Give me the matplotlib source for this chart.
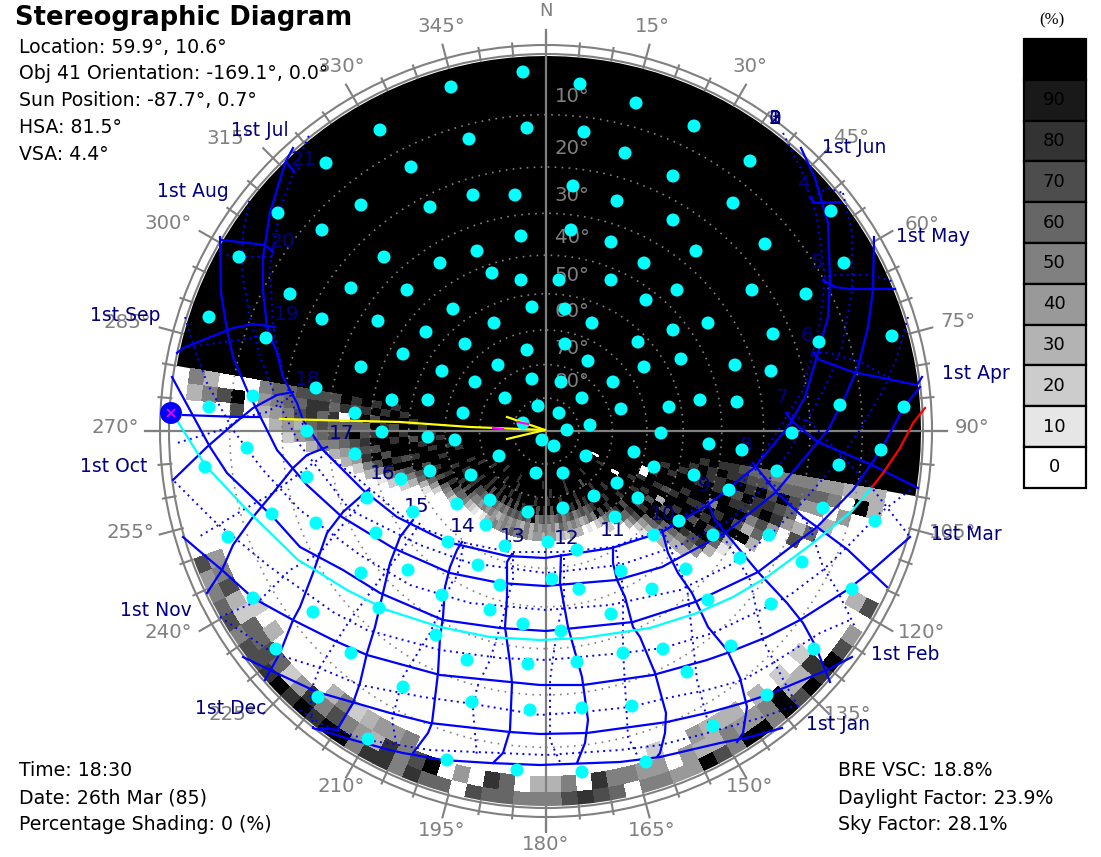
import numpy as np
import matplotlib
matplotlib.use("Agg")
import matplotlib.pyplot as plt
from matplotlib.collections import PolyCollection
from matplotlib.patches import Circle, Wedge, Rectangle

# chart centre on the sheet and projection radius
cx, cy = 546, 431
R = 377

# sky sample points, east / north of the centre
dot_east = [-23,-95,-166,-19,-77,-220,-135,-73,-31,-185,-116,-268,-224,-25,-69,-307,-162,-106,-54,-25,
            -195,-139,-256,-14,-93,-337,-224,-168,-52,-120,-280,-81,-19,-143,-48,-185,-104,-14,-71,-230,
            -41,-154,-118,-191,-83,-8,-337,-293,-23,
            34,90,148,38,79,204,127,27,187,71,285,127,25,65,219,150,298,98,13,65,131,206,260,100,19,46,162,
            127,227,346,92,19,273,42,135,98,189,225,15,67,36,154,75,123,191,294,358,13,44,21,115,
            163,246,8,196,40,88,108,17,231,148,71,183,48,92,17,69,133,108,167,223,2,31,194,75,140,256,6,33,
            106,162,225,65,15,335,293,277,329,306,117,185,77,31,268,141,221,86,36,167,100,36,
            -293,-233,-270,-195,-167,-110,-104,-56,-46,-23,-185,-138,-79,-18,-143,-74,-16,-228,-178,-99,-29,
            -239,-164,-118,-91,-4,-191,-47,-116,-75,-10,-239,-145,-179,-56,-89,-18,-133,-60,-170,-230,-98,-41,-68,
            -299,-341,-274,-318]
dot_north = [359,344,301,303,292,268,264,236,236,226,224,218,201,195,180,174,174,168,158,151,
             143,141,137,124,122,114,112,110,108,99,93,87,81,77,66,64,60,52,49,43,
             33,31,31,18,18,25,24,35,8,
             347,328,305,299,278,270,255,245,228,230,220,211,201,189,187,180,168,168,151,151,141,141,137,131,122,108,108,
             101,97,95,89,87,89,70,72,64,66,60,49,49,33,31,22,24,29,26,24,18,6,1,-2,
             -13,-2,-15,-19,-25,-21,-36,-42,-40,-44,-52,-59,-65,-67,-77,-86,-90,-104,-104,-104,-111,-119,-127,-140,-138,-131,-148,-158,
             -158,-169,-173,-183,-200,-19,-34,-77,-90,-158,-218,-215,-222,-231,-218,-241,-264,-275,-277,-295,-331,-341,
             -167,-181,-218,-222,-177,-204,-164,-179,-154,-193,-142,-139,-229,-233,-256,-271,-279,-266,-308,-329,-339,
             0,-1,-6,-9,-9,-23,-25,-40,-44,-42,-46,-48,-67,-69,-73,-81,-81,-94,-102,-92,-111,-115,-134,
             -17,-36,-83,-106]

# shading cells, 2.5 degree grid. one character per cell: 0-9 = tens of percent, X = 100, . = none
east_alts = [5,7.5,10,12.5,15,17.5,20,22.5,25,27.5,30,32.5,35,37.5,40,42.5,45,47.5,50,52.5,55,57.5,
             60,62.5,65,67.5,70,72.5,75,77.5,80,82.5,85,87.5]
east_rows = ["33","3X","304","4503","46406","564037","567640","56X7840","5678X763","67X8853X0",
             "678X8X7X31","78X78XXX863","88X7XX8X7X84","8X88X5X8XX763","X88XXX8X7X853","8XX8XX8XX7X643",
             "X8XXX8XX8XX652","XX8XXX8XX7X8631","XXX8XX7X3XXX6420","XX8XXX8XX7X8X7530","XXXX8XXX8XX7X866302",
             "XXXX008XX8XXX7X866532010334232443443",
             "XXXXXXX8XXXX8XXX8X7X5643454563545453","XXXXXXXXX8XXXXX8XXX8767657657656765X",
             "XXXXXXXX0XXXX8XXXXXX8X7X8X7X8X7X8X7X","XXXXXXXXXXXXXXXX8XXXXX8XXXX8XXX8XXX8",
             "XXXXXXXX8XXXXXXXXX7XXXXX8XXXXX8XXXXX","XXXXXX0XXXXXXXX8XXXXXXXX8XXXXXXXX8XX",
             "","","","","",""]
west_alts = [2.5,5,7.5,10,12.5,15,17.5,20,22.5,25,27.5,30,32.5,35,37.5,40,42.5,45,47.5,50,52.5,55,57.5,
             60,62.5,65,67.5,70,72.5,75,77.5,80,82.5,85,87.5]
west_rows = ["53","35","070","0X7","000","5430","6543","66542","76734","788653","786765","7686753","X8067643",
             "8786X7642","X8X6787853","8X7X8X7X741","X8X8XXX7X852","8XX7X8XX8X652","X8XX8XXX7X753",
             "XX8XX7XX8XX7631","XXX8XX8XXX7X86420","XXXX8XX8XXX8X7X65420",
             "XXXXX8XXX8XXX8X8X7665321013454546565",
             "XXXXXXX8XXXX8XXX8X7X65545454345454353","XXXXXXXX8XXXXX8XXX8X7767676565767676",
             "XXXXXXXXXXXX8XXXXX8XX8X7X8X7X7X7X8X7","XXXXXXXXXXXXXX8XXXXXX8XXX8XX8XX8XX",
             "XXXXXXXXXXXXXXXXX8XXXXXX8XXXX8XXXX","XXXXXXXXXXXXXXXXXXXXX8XXXXXX8XXXXX",
             "","","","","",""]
horizon_alts = [0,2.5,5]
horizon_rows = ["745675778X" + "8X8XX58858" + "6607665557" + "87605544X7" + "5XX5X7X8X7" + "4.7",
                "4573266762" + "4857543857" + "X040860335" + "0855440433" + "5445X338.." + "..3",
                "....2.3.....3523445" + "................" + "2..4333.3.2.2"]

# sun paths read from the sheet (x, y)
day_solid = [
    [(801,148),(815,178),(828,223),(830,280),(828,317),(815,363),(805,397),(788,427),(755,467),(708,505),(662,532),(612,548),(545,558),(507,556),(447,542),(397,517),(363,490),(323,450),(303,420),(297,403),(283,377),(277,353),(267,327),(263,290),(263,257),(270,213),(285,163),(293,148)],
    [(874,237),(873,290),(868,327),(858,367),(845,397),(828,430),(775,493),(725,533),(662,567),(617,580),(545,586),(500,583),(450,573),(393,548),(342,517),(307,485),(277,450),(247,390),(233,357),(227,330),(221,293),(220,237)],
    [(920,387),(904,407),(881,450),(853,490),(817,527),(758,572),(695,602),(633,622),(546,631),(500,628),(443,620),(380,593),(343,570),(300,547),(273,517),(227,473),(210,447),(172,377)],
    [(183,537),(210,560),(222,570),(253,598),(293,620),(333,640),(367,655),(440,675),(540,685),(583,685),(653,675),(707,660),(727,653),(767,637),(800,620),(847,590),(870,572),(910,537)],
    [(243,657),(270,670),(317,692),(352,702),(390,713),(430,723),(510,732),(540,734),(587,733),(667,722),(707,713),(743,703),(767,695),(827,670),(852,657)],
    [(313,728),(353,740),(390,750),(403,753),(443,760),(490,763),(540,765),(620,762),(660,757),(720,743),(750,737),(782,728)],
]
day_dotted = [
    [(783,133),(800,167),(817,217),(825,277),(820,323),(803,390),(780,427),(757,463),(737,490),(700,505),(667,527),(613,547),(560,552),(510,552),(460,542),(413,525),(363,483),(330,457),(297,417),(283,373),(273,327),(270,267),(280,210),(293,173),(310,133)],
    [(843,193),(852,233),(852,290),(842,347),(827,383),(813,410),(790,450),(762,490),(730,520),(680,545),(620,565),(546,573),(470,563),(420,545),(350,510),(300,445),(277,400),(260,357),(250,317),(242,273),(243,233),(250,197)],
    [(908,317),(897,357),(883,390),(860,430),(835,465),(800,505),(770,535),(730,565),(680,590),(610,605),(546,610),(470,603),(410,585),(360,555),(300,510),(263,470),(233,430),(207,383),(195,350),(185,317)],
    [(910,490),(880,513),(847,547),(823,570),(790,595),(757,612),(713,633),(663,648),(623,653),(546,660),(500,658),(440,650),(367,630),(333,612),(270,567),(213,520),(173,480)],
    [(220,617),(273,653),(317,667),(360,685),(423,697),(467,703),(540,715),(583,712),(630,707),(667,698),(707,690),(743,680),(773,663),(820,633),(850,620)],
    [(300,710),(323,725),(367,740),(430,750),(546,755),(620,750),(660,745),(700,735),(760,718),(797,705)],
]
hour_solid = [
    [(810,198),(815,203),(840,202)],
    [(823,280),(835,287),(850,289),(895,289)],
    [(813,353),(820,360),(853,372),(917,385),(922,377)],
    [(786,413),(793,422),(818,442),(872,465),(918,488)],
    [(753,463),(777,493),(803,517),(817,527),(848,550),(887,587)],
    [(708,502),(715,520),(758,572),(787,603),(803,623),(815,645),(830,682)],
    [(662,530),(668,553),(678,573),(692,593),(708,627),(727,650),(740,678),(747,707),(743,733),(737,742)],
    [(613,547),(613,563),(617,580),(625,597),(633,627),(640,637),(655,673),(666,713),(665,733),(660,753),(657,757)],
    [(561,555),(560,583),(568,627),(582,677),(588,720),(585,743),(577,763)],
    [(512,554),(507,562),(507,597),(505,627),(510,663),(512,683),(510,730),(503,753),(493,763)],
    [(462,542),(457,550),(450,567),(445,587),(443,617),(440,637),(438,673),(432,723),(428,733),(413,753)],
    [(413,520),(400,537),(390,563),(375,627),(367,653),(360,683),(353,703),(337,730),(320,728)],
    [(368,490),(343,512),(327,533),(313,573),(300,607),(293,620),(280,653),(265,680)],
    [(327,447),(307,455),(293,468),(273,493),(253,517),(233,545),(222,570),(207,593)],
    [(293,392),(277,395),(253,408),(230,427),(207,447),(173,480)],
    [(275,327),(253,324),(233,328),(183,348),(177,353)],
    [(273,252),(265,245),(240,242),(221,240)],
    [(293,170),(287,163)],
]
hour_dotted = [
    [(812,198),(827,188),(843,193)],
    [(823,280),(833,275),(870,275),(895,282)],
    [(813,353),(830,353),(860,362),(893,380)],
    [(786,413),(810,422),(872,488),(910,537)],
    [(750,465),(780,490),(810,527),(823,567),(837,590),(855,627)],
    [(710,508),(717,527),(730,547),(750,580),(763,640),(787,687),(800,710)],
    [(665,535),(675,560),(687,587),(697,680),(710,730)],
    [(616,550),(620,570),(623,587),(623,650),(628,737),(638,757)],
    [(564,558),(564,600),(557,630),(550,680),(550,740),(560,762)],
    [(513,553),(513,580),(510,590),(503,617),(490,660),(477,687),(473,710),(477,757)],
    [(463,547),(457,577),(453,580),(430,633),(403,677),(392,720),(397,747)],
    [(420,523),(400,553),(372,590),(350,620),(320,667),(310,693),(313,727)],
    [(370,490),(357,507),(320,553),(290,570),(260,600),(220,617)],
    [(327,453),(273,493),(243,510),(197,538)],
    [(293,395),(267,412),(240,418),(227,428),(177,443)],
    [(275,330),(253,338),(217,343),(183,348)],
    [(272,257),(243,257),(225,255)],
    [(293,173),(303,165)],
]
today_path = [(178,422),(205,465),(247,510),(298,560),(315,570),(347,590),(387,610),(440,627),(490,637),(540,640),(583,638),(650,628),(697,613),(733,597),(767,577),(813,543),(853,510),(872,487)]
today_red = [(872,487),(883,473),(900,448),(913,423),(925,408)]
sun_ray = [(183,415),(240,417),(260,417)]
sun_pos = (171,413)
view_line = [(280,419),(400,422),(470,427),(545,430)]
view_head = [(507,417),(545,430),(507,439)]
view_marks = [[(518,422),(528,424)],[(493,428),(503,429)]]

hour_names = ["0","1","2","3","4","5","6","7","8","9","10","11","12","13","14","15","16","17","18","19","20","21"]
hour_east = [229,229,229,229,258,271,261,236,200,158,117,67,21,-33,-83,-129,-163,-204,-238,-259,-264,-243]
hour_north = [313,313,313,313,248,169,96,34,-14,-54,-84,-99,-107,-106,-96,-75,-42,-2,52,117,190,272]

month_names = ["1st Jun","1st Jul","1st May","1st Aug","1st Apr","1st Sep","1st Mar","1st Oct","1st Feb","1st Nov","1st Jan","1st Dec"]
month_x = [854,260,933,193,976,125,966,114,905,156,838,231]
month_y = [147,130,236,191,373,315,534,466,655,611,725,708]

azimuths = list(range(15,360,15))
az_label_x = [652,750,852,922,958,972,953,922,848,750,652,546,442,341,232,168,130,115,127,168,230,341,441]
az_label_y = [26,66,137,224,321,427,533,632,714,787,830,845,830,787,714,632,532,427,322,223,138,66,26]
altitudes = [10,20,30,40,50,60,70,80]
alt_label_y = [96,148,195,237,275,311,348,381]

legend_levels = [100,90,80,70,60,50,40,30,20,10,0]
legend_names = ["","90","80","70","60","50","40","30","20","10","0"]

info_top = ["Location: 59.9°, 10.6°","Obj 41 Orientation: -169.1°, 0.0°","Sun Position: -87.7°, 0.7°","HSA: 81.5°","VSA: 4.4°"]
info_top_y = [47,73,100,127,154]
info_left = ["Time: 18:30","Date: 26th Mar (85)","Percentage Shading: 0 (%)"]
info_right = ["BRE VSC: 18.8%","Daylight Factor: 23.9%","Sky Factor: 28.1%"]
info_low_y = [771,798,825]

GREY = "#808080"
NAVY = "#000080"
BLUE = "#0000ff"
CYAN = "#00ffff"

def sheet(points):
    p = np.array(points, dtype=float)
    return p[:,0]-cx, cy-p[:,1]

def project(az, alt):
    r = R*np.tan(np.radians(90-alt)/2)
    return r*np.sin(np.radians(az)), r*np.cos(np.radians(az))

def level_color(c):
    v = 100 if c == "X" else int(c)*10
    g = 1-v/100
    return (g, g, g)

def add_cells(az, alt, c, polys, cols):
    if c == ".":
        return
    corners = [project(az,alt),project(az+1.25,alt),project(az+2.5,alt),
               project(az+2.5,alt+1.25),project(az+2.5,alt+2.5),project(az+1.25,alt+2.5),project(az,alt+2.5),project(az,alt+1.25)]
    polys.append(corners)
    cols.append(level_color(c))

fig = plt.figure(figsize=(11.01,8.57), dpi=100)
ax = fig.add_axes([0,0,1,1])
ax.set_xlim(-cx, 1101-cx)
ax.set_ylim(cy-857, cy)
ax.axis("off")

# part of the sky behind the facade
ax.add_patch(Wedge((0,0), 375, -10, 170, facecolor="black", edgecolor="none", zorder=1))

polys, cols = [], []
for alt, row in zip(east_alts, east_rows):
    if alt >= 57.5:
        row = row.ljust(36, "X")
    for i, c in enumerate(row[:36]):
        add_cells(100+2.5*i, alt, c, polys, cols)
for alt, row in zip(west_alts, west_rows):
    if alt >= 57.5:
        row = row.ljust(36, "X")
    for i, c in enumerate(row[:36]):
        add_cells(277.5-2.5*i, alt, c, polys, cols)
for alt, row in zip(horizon_alts, horizon_rows):
    for i, c in enumerate(row):
        add_cells(247.5-2.5*i, alt, c, polys, cols)
cells = PolyCollection(polys, facecolors=cols, edgecolors="none", antialiased=False, zorder=2)
ax.add_collection(cells)
cells.set_clip_path(Circle((0,0), 375, transform=ax.transData))

# elevation circles
for alt in altitudes:
    r = R*np.tan(np.radians(90-alt)/2)
    ax.add_patch(Circle((0,0), r, fill=False, edgecolor=GREY, lw=1.2, ls=(0,(1,3.2)), zorder=3))
for alt, y in zip(altitudes, alt_label_y):
    ax.text(26, cy-y, "%d°" % alt, color=GREY, fontsize=14.2, ha="center", va="center", zorder=4)

# outer ring with ticks
for r in [377,386]:
    ax.add_patch(Circle((0,0), r, fill=False, edgecolor=GREY, lw=1.5, zorder=3))
for az in range(0,360,5):
    r1 = 401 if az % 15 == 0 else 390
    s, c = np.sin(np.radians(az)), np.cos(np.radians(az))
    ax.plot([375*s,r1*s],[375*c,r1*c], color=GREY, lw=1.5, zorder=3, solid_capstyle="butt")
ax.plot([-401,401],[0,0], color=GREY, lw=1.6, zorder=3)
ax.plot([0,0],[-401,401], color=GREY, lw=1.6, zorder=3)
ax.text(0, cy-11, "N", color=GREY, fontsize=13, ha="center", va="center", zorder=4)
for az, x, y in zip(azimuths, az_label_x, az_label_y):
    ax.text(x-cx, cy-y, "%d°" % az, color=GREY, fontsize=14.2, ha="center", va="center", zorder=4)

# sun paths
for path in day_dotted + hour_dotted:
    x, y = sheet(path)
    ax.plot(x, y, color=BLUE, lw=1.4, ls=(0,(1,2.2)), zorder=5)
for path in day_solid + hour_solid:
    x, y = sheet(path)
    ax.plot(x, y, color=BLUE, lw=1.6, zorder=5)
x, y = sheet(today_path)
ax.plot(x, y, color=CYAN, lw=1.6, zorder=5)
x, y = sheet(today_red)
ax.plot(x, y, color="#ff0000", lw=1.6, zorder=5)
x, y = sheet(sun_ray)
ax.plot(x, y, color=BLUE, lw=1.6, zorder=5)
x, y = sheet(view_line)
ax.plot(x, y, color="#ffff00", lw=1.6, zorder=6)
x, y = sheet(view_head)
ax.plot(x, y, color="#ffff00", lw=1.6, zorder=8)

for name, e, n in zip(hour_names, hour_east, hour_north):
    ax.text(e, n, name, color=NAVY, fontsize=14.5, ha="center", va="center", zorder=6)

ax.scatter(dot_east, dot_north, s=88, color=CYAN, edgecolors="none", zorder=7)

for seg in view_marks:
    x, y = sheet(seg)
    ax.plot(x, y, color="#ff00ff", lw=1.6, zorder=9)
sx, sy = sheet([sun_pos])
ax.scatter(sx, sy, s=250, color=BLUE, edgecolors="none", zorder=7)
ax.plot(sx, sy, marker="x", ms=6, color="#ff00ff", mew=1.2, zorder=8)

for name, x, y in zip(month_names, month_x, month_y):
    ax.text(x-cx, cy-y, name, color=NAVY, fontsize=13.5, ha="center", va="center", zorder=10)

ax.text(15-cx, cy-18, "Stereographic Diagram", color="black", fontsize=18.5, fontweight="bold", ha="left", va="center", zorder=10)
for s, y in zip(info_top, info_top_y):
    ax.text(19-cx, cy-y, s, color="black", fontsize=13.6, ha="left", va="center", zorder=10)
for s, y in zip(info_left, info_low_y):
    ax.text(19-cx, cy-y, s, color="black", fontsize=13.6, ha="left", va="center", zorder=10)
for s, y in zip(info_right, info_low_y):
    ax.text(838-cx, cy-y, s, color="black", fontsize=13.6, ha="left", va="center", zorder=10)

# shading scale
ax.text(1052-cx, cy-20, "(%)", color="black", fontsize=12, family="Liberation Serif", ha="center", va="center")
for i, (v, name) in enumerate(zip(legend_levels, legend_names)):
    top = 39 + 40.8*i
    g = 1-v/100
    ax.add_patch(Rectangle((1024-cx, cy-top-40.8), 62, 40.8, facecolor=(g,g,g), edgecolor="black", lw=1.6, zorder=3))
    if name:
        ax.text(1054-cx, cy-top-20.4, name, color="black", fontsize=13, ha="center", va="center", zorder=4)

fig.savefig("out.png", dpi=100)
